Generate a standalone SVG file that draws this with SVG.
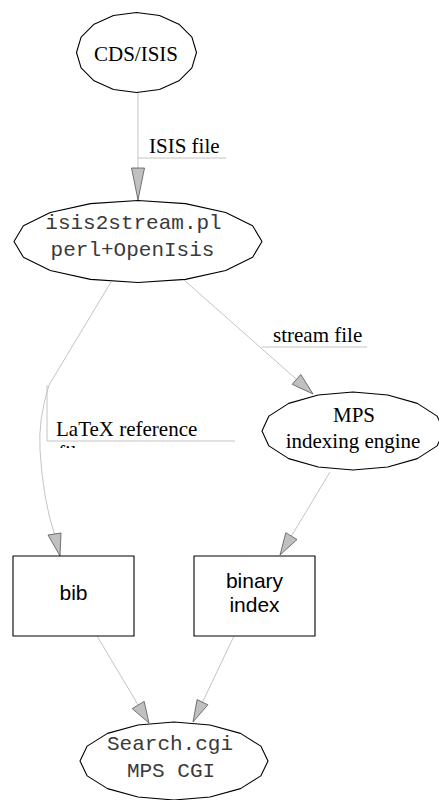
<svg xmlns="http://www.w3.org/2000/svg" width="439" height="800" viewBox="0 0 439 800">
<style>
.node{fill:#fff;stroke:#000;stroke-width:1.1;stroke-linejoin:round}
.edge{fill:none;stroke:#c4c4c4;stroke-width:1}
.lead{fill:none;stroke:#c4c4c4;stroke-width:1}
.head{fill:#c0c0c0;stroke:#444;stroke-width:0.7;stroke-linejoin:round}
.serif{font-family:"Liberation Serif","Times New Roman",serif;font-size:21px;fill:#000}
.mono{font-family:"Liberation Mono","Courier New",monospace;font-size:21px;fill:#3a3a3a}
.sans{font-family:"Liberation Sans",Arial,sans-serif;font-size:21px;fill:#000}
</style>
<defs>
<clipPath id="clipFile"><rect x="0" y="442" width="439" height="6"/></clipPath>
</defs>
<rect width="439" height="800" fill="#fff"/>
<g id="connectors">
  <g id="e-cds-isis">
    <line class="edge" x1="138" y1="92" x2="138" y2="168"/>
    <polygon class="head" points="131.5,168 144.5,168 138,200"/>
    <line class="lead" x1="138" y1="158" x2="226" y2="158"/>
    <text class="serif" x="149" y="153">ISIS file</text>
  </g>
  <g id="e-isis-mps">
    <line class="edge" x1="184" y1="280" x2="296.5" y2="379.4"/>
    <polygon class="head" points="292.2,384.3 300.8,374.5 313,394"/>
    <line class="lead" x1="262" y1="347" x2="367" y2="347"/>
    <text class="serif" x="273" y="342">stream file</text>
  </g>
  <g id="e-isis-bib">
    <path class="edge" d="M111,282 L49,385 Q38,420 40,450 Q43,500 54.5,534"/>
    <polygon class="head" points="48,535 61,533 60,556"/>
    <polyline class="lead" points="47,385 47,441 235,441"/>
    <text class="serif" x="56" y="436">LaTeX reference</text>
    <text class="serif" x="58" y="460" clip-path="url(#clipFile)">file</text>
  </g>
  <g id="e-mps-bin">
    <line class="edge" x1="330" y1="472" x2="291.4" y2="536.1"/>
    <polygon class="head" points="297,539.5 285.8,532.7 280,555"/>
  </g>
  <g id="e-bib-search">
    <line class="edge" x1="97" y1="636" x2="138.2" y2="705"/>
    <polygon class="head" points="132.2,708.6 144.2,701.4 149,723"/>
  </g>
  <g id="e-bin-search">
    <line class="edge" x1="234" y1="636" x2="202.5" y2="702.2"/>
    <polygon class="head" points="207.9,704.8 197.1,699.6 193,722"/>
  </g>
</g>
<g id="cds">
  <polygon class="node" points="196.5,52.5 191.9,67.8 178.9,80.8 159.5,89.5 136.5,92.5 113.5,89.5 94.1,80.8 81.1,67.8 76.5,52.5 81.1,37.2 94.1,24.2 113.5,15.5 136.5,12.5 159.5,15.5 178.9,24.2 191.9,37.2"/>
  <text class="serif" x="136" y="61" text-anchor="middle">CDS/ISIS</text>
</g>
<g id="isis2stream">
  <polygon class="node" points="262,241.5 252.6,257.2 225.7,270.5 185.5,279.4 138,282.5 90.5,279.4 50.3,270.5 23.4,257.2 14,241.5 23.4,225.8 50.3,212.5 90.5,203.6 138,200.5 185.5,203.6 225.7,212.5 252.6,225.8"/>
  <text class="mono" x="133.5" y="229" text-anchor="middle">isis2stream.pl</text>
  <text class="mono" x="132.5" y="256" text-anchor="middle">perl+OpenIsis</text>
</g>
<g id="mps">
  <polygon class="node" points="444,431 437.1,445.9 417.3,458.6 387.8,467 353,470 318.2,467 288.7,458.6 268.9,445.9 262,431 268.9,416.1 288.7,403.4 318.2,395 353,392 387.8,395 417.3,403.4 437.1,416.1"/>
  <text class="serif" x="354" y="422" text-anchor="middle">MPS</text>
  <text class="serif" x="353" y="448" text-anchor="middle">indexing engine</text>
</g>
<g id="bib">
  <rect class="node" x="13" y="556" width="121" height="80"/>
  <text class="sans" x="73.5" y="600" text-anchor="middle">bib</text>
</g>
<g id="binary">
  <rect class="node" x="194" y="556" width="121" height="80"/>
  <text class="sans" x="254.5" y="588" text-anchor="middle">binary</text>
  <text class="sans" x="254.5" y="612" text-anchor="middle">index</text>
</g>
<g id="search">
  <polygon class="node" points="268,761 260.8,775.9 240.5,788.6 210,797 174,800 138,797 107.5,788.6 87.2,775.9 80,761 87.2,746.1 107.5,733.4 138,725 174,722 210,725 240.5,733.4 260.8,746.1"/>
  <text class="mono" x="170" y="750" text-anchor="middle">Search.cgi</text>
  <text class="mono" x="171" y="777" text-anchor="middle">MPS CGI</text>
</g>
</svg>
